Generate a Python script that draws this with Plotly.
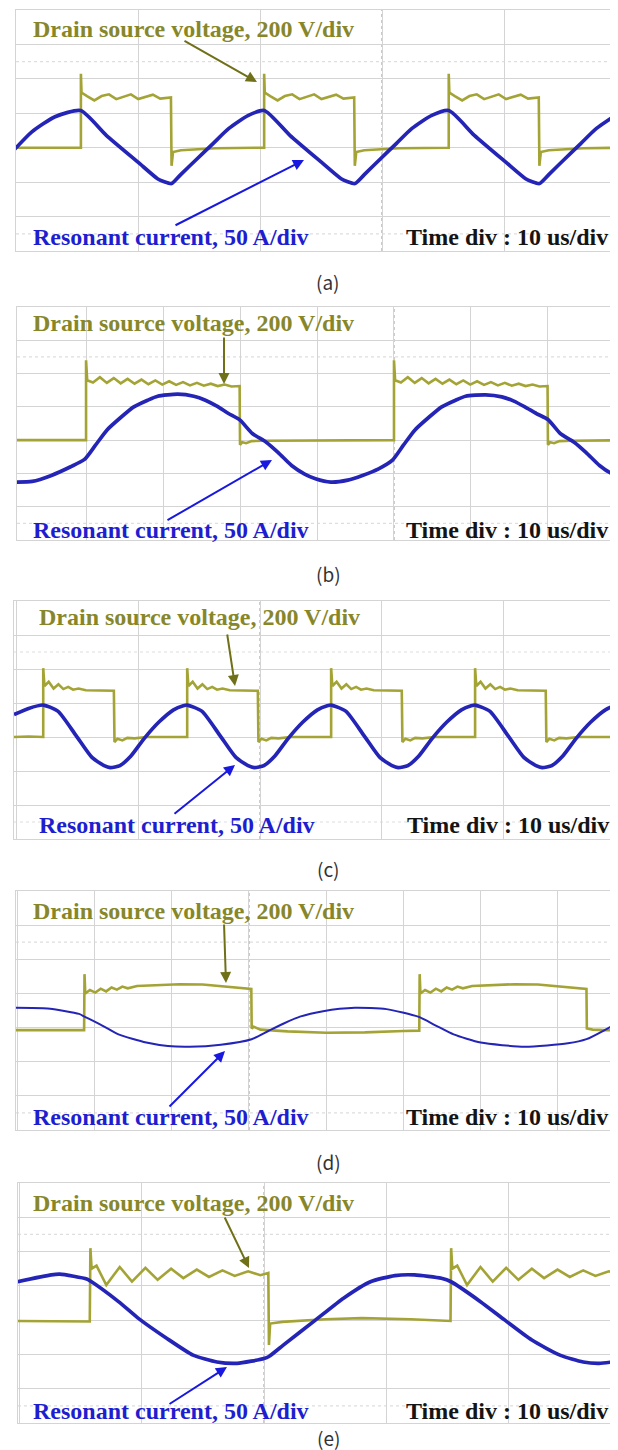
import plotly.graph_objects as go

W, H = 618, 1450

# ---------------- data (time in us, voltage in V, current in A) ----------------
# (a)
a_vt = [-30.1, -27.0, -24.68, -24.68, -24.63, -24.18, -23.58, -22.98, -22.38, -21.78, -21.18, -20.58,
        -19.98, -19.38, -18.78, -18.18, -17.58, -17.30, -17.25, -17.13, -16.48, -15.18, -13.68,
        -9.66, -9.66, -9.61, -9.16, -8.56, -7.96, -7.36, -6.76, -6.16, -5.56, -4.96, -4.36, -3.76,
        -3.16, -2.56, -2.28, -2.23, -2.11, -1.46, -0.16, 1.34,
        5.47, 5.47, 5.52, 5.97, 6.57, 7.17, 7.77, 8.37, 8.97, 9.57, 10.17, 10.77, 11.37, 11.97,
        12.57, 12.85, 12.90, 13.02, 13.67, 14.97, 16.47, 20.1]
a_v = [0, 2, 0, 430, 320, 300, 275, 300, 310, 282, 296, 310, 283, 295, 308, 285, 290, 292, -105, -25, -15, -8, -3,
       0, 430, 320, 300, 275, 300, 310, 282, 296, 310, 283, 295, 308, 285, 290, 292, -105, -25, -15, -8, -3,
       0, 430, 320, 300, 275, 300, 310, 282, 296, 310, 283, 295, 308, 285, 290, 292, -105, -25, -15, -8, -3, 0]
a_it = [-30.2, -28.7, -26.8, -24.7, -22.6, -20.0, -18.4, -17.9, -17.25, -16.5, -15.15, -13.85, -12.55,
        -10.95, -9.65, -7.55, -4.97, -3.35, -2.86, -2.22, -1.45, -0.12, 1.17, 2.46, 4.08, 5.47, 7.57,
        10.15, 11.77, 12.26, 12.9, 13.67, 15.0, 16.29, 17.58, 19.2, 20.5]
a_i = [-4, 23, 45, 54, 18, -21, -45, -49, -52, -39, -16, 6, 28, 47, 54, 18, -21, -45, -49, -52, -39, -16,
       6, 28, 47, 54, 18, -21, -45, -49, -52, -39, -16, 6, 28, 47, 54]

# (b)
b_vt = [-49.0, -44.0, -40.0, -40.0, -39.85, -39.1, -38.2, -37.3, -36.4, -35.5, -34.6, -33.7, -32.8, -31.9,
        -31.0, -30.1, -29.2, -28.3, -27.4, -26.5, -25.6, -24.7, -23.8, -22.9, -22.0, -21.1, -20.2, -20.05,
        -20.0, -19.7, -19.2, -18.5, -17.0, -12.0, -5.0,
        0.0, 0.0, 0.15, 0.9, 1.8, 2.7, 3.6, 4.5, 5.4, 6.3, 7.2, 8.1, 9.0, 9.9, 10.8, 11.7, 12.6, 13.5, 14.4,
        15.3, 16.2, 17.1, 18.0, 18.9, 19.8, 19.95, 20.0, 20.3, 20.8, 21.5, 23.0, 30.2]
b_v = [0, 2, 0, 480, 360, 346, 378, 344, 373, 341, 368, 339, 364, 336, 359, 334, 354, 332, 349, 329, 344, 327,
       339, 325, 334, 322, 326, 325, -28, -12, -18, -6, -4, -2, 0,
       0, 480, 360, 346, 378, 344, 373, 341, 368, 339, 364, 336, 359, 334, 354, 332, 349, 329, 344, 327,
       339, 325, 334, 322, 326, 325, -28, -12, -18, -6, -4, 0]
b_it = [-49.0, -47.0, -44.5, -42.0, -40.2, -38.8, -37.3, -35.5, -33.8, -32.0, -30.7, -28.1, -26.0, -24.5,
        -23.0, -21.5, -20.0, -18.4, -16.6, -15.0, -13.3, -11.6, -10.2, -8.2, -6.0, -4.1, -2.0, -0.2, 1.2,
        2.7, 4.5, 6.2, 8.0, 9.3, 11.9, 14.0, 15.5, 17.0, 18.5, 20.0, 21.6, 23.4, 25.0, 26.7, 28.4, 30.2]
b_i = [-63, -62, -53, -40, -29, -8, 15, 34, 50, 60, 66, 69, 66, 60, 51, 40, 30, 10, -3, -19, -38, -51, -58,
       -63, -60, -53, -43, -30, -8, 15, 34, 50, 60, 66, 68, 65, 59, 50, 40, 31, 10, -3, -19, -38, -51, -58]

# (c)
c_vt = [-20.2, -19.0,
        -17.8, -17.8, -17.7, -17.35, -16.95, -16.55, -16.15, -15.75, -15.35, -14.9, -14.3, -13.3, -12.0,
        -11.95, -11.7, -11.3, -10.9, -10.3, -9.3,
        -5.98, -5.98, -5.88, -5.53, -5.13, -4.73, -4.33, -3.93, -3.53, -3.08, -2.48, -1.48, -0.18,
        -0.13, 0.12, 0.52, 0.92, 1.52, 2.52,
        5.84, 5.84, 5.94, 6.29, 6.69, 7.09, 7.49, 7.89, 8.29, 8.74, 9.34, 10.34, 11.64,
        11.69, 11.94, 12.34, 12.74, 13.34, 14.34,
        17.66, 17.66, 17.76, 18.11, 18.51, 18.91, 19.31, 19.71, 20.11, 20.56, 21.16, 22.16, 23.46,
        23.51, 23.76, 24.16, 24.56, 25.16, 26.16,
        29.48, 29.48, 29.58, 29.93, 30.33]
c_v = [0, 3,
       0, 405, 300, 325, 285, 310, 282, 295, 278, 285, 275, 273, 272, -30, -10, -20, -5, -8, 0,
       0, 405, 300, 325, 285, 310, 282, 295, 278, 285, 275, 273, 272, -30, -10, -20, -5, -8, 0,
       0, 405, 300, 325, 285, 310, 282, 295, 278, 285, 275, 273, 272, -30, -10, -20, -5, -8, 0,
       0, 405, 300, 325, 285, 310, 282, 295, 278, 285, 275, 273, 272, -30, -10, -20, -5, -8, 0,
       0, 405, 300, 325, 285]
c_it = [-20.2, -19.0, -17.8, -16.6, -15.1, -13.8, -12.8, -12.3, -11.5, -10.6, -9.5, -8.3, -7.1, -6.3,
        -5.98, -4.78, -3.28, -1.98, -0.98, -0.48, 0.32, 1.22, 2.32, 3.52, 4.72, 5.52,
        5.84, 7.04, 8.54, 9.84, 10.84, 11.34, 12.14, 13.04, 14.14, 15.34, 16.54, 17.34,
        17.66, 18.86, 20.36, 21.66, 22.66, 23.16, 23.96, 24.86, 25.96, 27.16, 28.36, 29.16,
        29.48, 30.3]
c_i = [33, 42, 47, 38, 2, -30, -42, -45, -42, -28, -2, 22, 40, 46,
       47, 38, 2, -30, -42, -45, -42, -28, -2, 22, 40, 46,
       47, 38, 2, -30, -42, -45, -42, -28, -2, 22, 40, 46,
       47, 38, 2, -30, -42, -45, -42, -28, -2, 22, 40, 46,
       47, 44]

# (d)
d_vt = [-30.2, -25.0, -21.35, -21.3, -21.2, -20.6, -19.9, -19.2, -18.5, -17.8, -17.1, -16.4, -15.7, -14.5,
        -12.0, -9.0, -6.0, -3.0, -1.0, 0.3, 0.35, 0.6, 1.5, 5.0, 10.0, 15.0, 20.0, 22.05,
        22.1, 22.2, 22.8, 23.5, 24.2, 24.9, 25.6, 26.3, 27.0, 27.7, 28.9, 31.4, 34.4, 37.4, 40.4, 42.4,
        43.7, 43.75, 44.5, 46.0, 48.9]
d_v = [-15, -17, -15, 313, 200, 220, 205, 228, 212, 235, 222, 240, 230, 244, 250, 254, 252, 240, 232, 226,
       -5, 5, -12, -22, -30, -28, -20, -18,
       313, 200, 220, 205, 228, 212, 235, 222, 240, 230, 244, 250, 254, 252, 240, 232, 226, -5, -12, -15, -18]
d_it = [-30.2, -26.1, -22.0, -21.3, -19.0, -16.9, -13.3, -10.5, -7.7, -3.65, 0.34, 2.5, 4.5, 6.6, 9.6, 13.7,
        17.8, 21.9, 24.2, 26.5, 30.0, 35.7, 41.3, 43.7, 46.0, 48.9]
d_i = [29, 28, 20, 16, 3, -10, -22, -27, -28, -25, -17, -5, 6, 16, 24, 29, 27, 16, 3, -10, -22, -28, -23,
       -17, -4, 15]

# (e)
e_vt = [-20.2, -16.0, -14.25, -14.2, -14.1, -13.7, -12.9, -11.8, -10.8, -9.7, -8.7, -7.6, -6.6, -5.5, -4.5,
        -3.4, -2.4, -1.3, -0.3, 0.35, 0.4, 0.5, 1.5, 5.0, 8.0, 12.0, 15.25,
        15.3, 15.4, 15.8, 16.6, 17.7, 18.7, 19.8, 20.8, 21.9, 22.9, 24.0, 25.0, 26.1, 27.1, 28.2, 29.2, 29.7]
e_v = [-5, -8, -8, 420, 300, 318, 205, 310, 225, 305, 235, 300, 245, 295, 252, 290, 258, 285, 262, 275,
       -145, -20, -10, 5, 12, 5, -5,
       420, 300, 318, 205, 310, 225, 305, 235, 300, 245, 295, 252, 290, 258, 285, 262, 275]
e_it = [-20.2, -17.4, -16.7, -14.5, -14.2, -11.9, -10.3, -8.0, -5.8, -3.85, -2.2, 0.0, 0.4, 1.6, 4.2, 6.5,
        8.7, 10.7, 12.3, 14.5, 15.3, 17.7, 19.7, 21.9, 24.2, 26.1, 27.4, 29.7]
e_i = [56, 66, 67, 60, 57, 27, 3, -26, -51, -61, -63, -56, -53, -36, 0, 32, 56, 65, 66, 61, 56, 27, 0, -29,
       -51, -61, -63, -58]

captions = ["(a)", "(b)", "(c)", "(d)", "(e)"]
label_voltage = "Drain source voltage, 200 V/div"
label_current = "Resonant current, 50 A/div"
label_time = "Time div : 10 us/div"
volt_per_div = 200
amp_per_div = 50
us_per_div = 10

# ---------------- layout geometry (pixels) ----------------
panels = [
    dict(vt=a_vt, v=a_v, it=a_it, i=a_i, px=(8, 618), py=(2, 243), t=(-30.0, 20.0), iw=3.7,
         vlab=(23, 21), clab=(23, 229), tlab=(396, 229),
         varrow=((175, 32), (249, 74)), carrow=((166, 218), (296, 152)), cap=273),
    dict(vt=b_vt, v=b_v, it=b_it, i=b_i, px=(9, 618), py=(299, 532), t=(-48.97, 30.14), iw=3.7,
         vlab=(23, 315), clab=(23, 522), tlab=(396, 522),
         varrow=((216, 328), (216, 376)), carrow=((158, 513), (264, 452)), cap=565),
    dict(vt=c_vt, v=c_v, it=c_it, i=c_i, px=(6, 618), py=(593, 831), t=(-20.2, 30.05), iw=3.7,
         vlab=(29, 609), clab=(29, 817), tlab=(397, 817),
         varrow=((219, 625), (227, 678)), carrow=((165, 807), (227, 757)), cap=860),
    dict(vt=d_vt, v=d_v, it=d_it, i=d_i, px=(8, 618), py=(883, 1122), t=(-30.17, 48.82), iw=2.0,
         vlab=(23, 903), clab=(23, 1109), tlab=(396, 1109),
         varrow=((216, 915), (218, 975)), carrow=((160, 1100), (217, 1043)), cap=1153),
    dict(vt=e_vt, v=e_v, it=e_it, i=e_i, px=(10, 618), py=(1175, 1415), t=(-20.12, 29.6), iw=3.7,
         vlab=(23, 1195), clab=(23, 1403), tlab=(396, 1403),
         varrow=((216, 1208), (241, 1260)), carrow=((160, 1397), (219, 1359)), cap=1429),
]

V_COL = "#a4a436"
V_TXT = "#87872a"
V_ARR = "#6f7018"
I_COL = "#2424b6"
I_TXT = "#1e1ed0"
I_ARR = "#1818e0"
GRID = "#d4d4d4"
FONT = "Liberation Serif"

fig = go.Figure()
layout = dict(width=W, height=H, margin=dict(l=0, r=0, t=0, b=0),
              paper_bgcolor="white", plot_bgcolor="white", showlegend=False)
shapes, annotations = [], []


def pp(xy):
    return xy[0] / W, 1 - xy[1] / H


for k, p in enumerate(panels, start=1):
    xs = "" if k == 1 else str(k)
    yv = "" if k == 1 else str(2 * k - 1)
    yi = str(2 * k)
    xref, yvref, yiref = "x" + xs, "y" + yv, "y" + yi
    dom_x = [p["px"][0] / W, p["px"][1] / W]
    dom_y = [1 - p["py"][1] / H, 1 - p["py"][0] / H]

    fig.add_trace(go.Scatter(x=p["vt"], y=p["v"], xaxis=xref, yaxis=yvref, mode="lines",
                             line=dict(color=V_COL, width=2.6), hoverinfo="skip"))
    fig.add_trace(go.Scatter(x=p["it"], y=p["i"], xaxis=xref, yaxis=yiref, mode="lines",
                             line=dict(color=I_COL, width=p["iw"], shape="spline", smoothing=0.6),
                             hoverinfo="skip"))

    layout["xaxis" + xs] = dict(domain=dom_x, range=list(p["t"]), anchor=yvref, dtick=us_per_div, tick0=0,
                                showgrid=True, gridcolor=GRID, gridwidth=1.4, showticklabels=False,
                                ticks="", zeroline=False, showline=True, linecolor=GRID, linewidth=1.4,
                                mirror=True, fixedrange=True)
    layout["yaxis" + yv] = dict(domain=dom_y, range=[-3 * volt_per_div, 4 * volt_per_div], anchor=xref,
                                dtick=volt_per_div, tick0=0, showgrid=True, gridcolor=GRID, gridwidth=1.4,
                                showticklabels=False, ticks="", zeroline=False, showline=True,
                                linecolor=GRID, linewidth=1.4, mirror=True, fixedrange=True)
    layout["yaxis" + yi] = dict(domain=dom_y, range=[-3 * amp_per_div, 4 * amp_per_div], anchor=xref,
                                overlaying=yvref, visible=False, fixedrange=True)

    # centre (trigger) line and faint dotted reference rows
    shapes.append(dict(type="line", xref=xref, yref=yvref + " domain", x0=0, x1=0, y0=0, y1=1,
                       line=dict(color="#a8a8a8", width=1.2, dash="dot"), layer="below"))
    for lvl in (2.5, -2.5):
        shapes.append(dict(type="line", xref=xref + " domain", yref=yvref, x0=0, x1=1,
                           y0=lvl * volt_per_div, y1=lvl * volt_per_div,
                           line=dict(color="#dedede", width=1.2, dash="dot"), layer="below"))

    for txt, pos, col in ((label_voltage, p["vlab"], V_TXT), (label_current, p["clab"], I_TXT),
                          (label_time, p["tlab"], "#141414")):
        x, y = pp(pos)
        annotations.append(dict(xref="paper", yref="paper", x=x, y=y, xanchor="left", yanchor="middle",
                                text="<b>" + txt + "</b>", showarrow=False,
                                font=dict(family=FONT, size=24, color=col)))
    for (tail, head), col in ((p["varrow"], V_ARR), (p["carrow"], I_ARR)):
        hx, hy = pp(head)
        annotations.append(dict(xref="paper", yref="paper", x=hx, y=hy, text="", showarrow=True,
                                axref="pixel", ayref="pixel", ax=tail[0] - head[0], ay=tail[1] - head[1],
                                arrowhead=2, arrowsize=1.1, arrowwidth=2, arrowcolor=col, standoff=0))
    annotations.append(dict(xref="paper", yref="paper", x=320 / W, y=1 - p["cap"] / H, xanchor="center",
                            yanchor="middle", text=captions[k - 1], showarrow=False,
                            font=dict(family="Noto Sans CJK KR", size=19, color="#333333")))

layout["shapes"] = shapes
layout["annotations"] = annotations
fig.update_layout(**layout)
fig.write_html("out.html")
